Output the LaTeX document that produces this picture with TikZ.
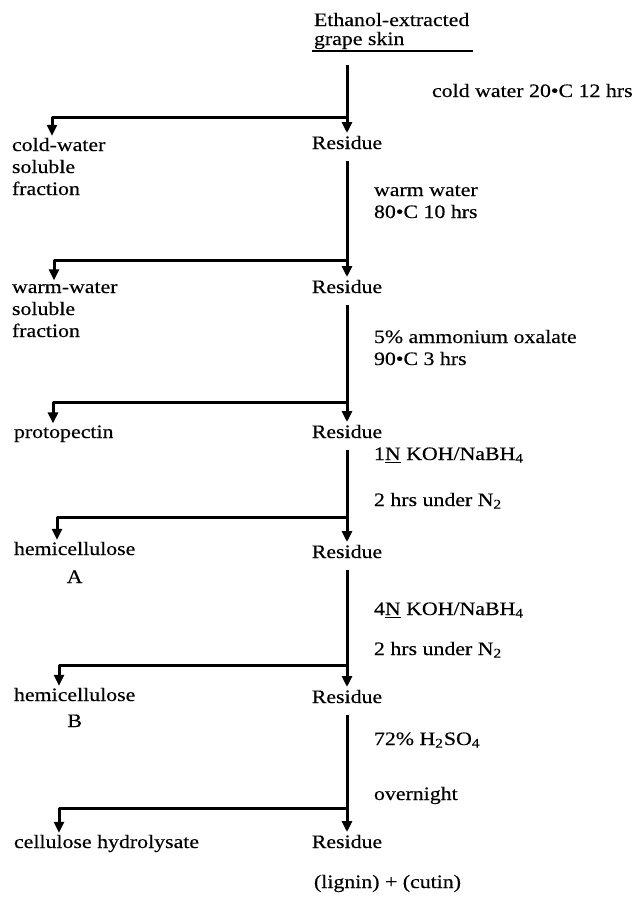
\documentclass[tikz,border=0pt]{standalone}
\usepackage{fontspec}
\setmainfont{Liberation Serif}[FakeStretch=1.15, FakeBold=0.4]
\usetikzlibrary{arrows.meta}
\begin{document}
\begin{tikzpicture}[x=.5pt, y=-.5pt, line join=round, >={Triangle[length=5.5pt,width=5pt]},
	every node/.style={font=\fontsize{9.5}{11}\selectfont, inner sep=0pt, outer sep=1pt},
	res/.style={anchor=base, text height=7pt, text depth=2pt},
	frac/.style={anchor=base west, align=left},
	cond/.style={anchor=base west},
	flow/.style={->, line width=1.5pt}]
	\useasboundingbox (0,0) rectangle (636,902);
	% main column (base = last line)
	\node[frac] (skin) at (312,45) {Ethanol-extracted\\[-1.5pt]grape skin};
	\draw[line width=.8pt] (skin.south west) -- ++(161,0);
	\node[res] (res1) at (347,149) {Residue};
	\node[res] (res2) at (347,293) {Residue};
	\node[res] (res3) at (347,438) {Residue};
	\node[res] (res4) at (347,558) {Residue};
	\node[res] (res5) at (347,703) {Residue};
	\node[res] (res6) at (347,848) {Residue};
	\node[cond] (rest) at (312,888) {(lignin) + (cutin)};
	% fractions
	\node[frac] (cold) at (10,195) {cold-water\\soluble\\fraction};
	\node[frac] (warm) at (10,337) {warm-water\\soluble\\fraction};
	\node[frac] (prot) at (12,438) {protopectin};
	\node[frac, align=center] (hemA) at (12,583) {hemicellulose\\[3pt]A};
	\node[frac, align=center] (hemB) at (12,727) {hemicellulose\\[2pt]B};
	\node[frac] (cell) at (12,848) {cellulose hydrolysate};
	% conditions
	\node[cond] at (430,97) {cold water 20•C 12 hrs};
	\node[frac] at (372,218) {warm water\\80•C 10 hrs};
	\node[frac] at (372,365) {5\% ammonium oxalate\\90•C 3 hrs};
	\node[cond] at (372,460) {1\underline{N} KOH/NaBH\textsubscript{4}};
	\node[cond] at (372,506) {2 hrs under N\textsubscript{2}};
	\node[cond] at (372,615) {4\underline{N} KOH/NaBH\textsubscript{4}};
	\node[cond] at (372,655) {2 hrs under N\textsubscript{2}};
	\node[cond] at (372,745) {72\% H\textsubscript{2}SO\textsubscript{4}};
	\node[cond] at (372,800) {overnight};
	% branch points
	\coordinate (b1) at (347,117);
	\coordinate (b2) at (347,260);
	\coordinate (b3) at (347,402);
	\coordinate (b4) at (347,517);
	\coordinate (b5) at (347,665);
	\coordinate (b6) at (347,808);
	\draw[flow, shorten <=7pt] (skin.south -| res1) -- (res1);
	\draw[flow, shorten <=3pt] (res1) -- (res2);
	\draw[flow, shorten <=3pt] (res2) -- (res3);
	\draw[flow, shorten <=3pt] (res3) -- (res4);
	\draw[flow, shorten <=3pt] (res4) -- (res5);
	\draw[flow, shorten <=3pt] (res5) -- (res6);
	\draw[flow] (b1) -| ([xshift=21pt]cold.north west);
	\draw[flow] (b2) -| ([xshift=22pt]warm.north west);
	\draw[flow] (b3) -| ([xshift=20.5pt]prot.north west);
	\draw[flow] (b4) -| ([xshift=22.5pt]hemA.north west);
	\draw[flow] (b5) -| ([xshift=23.5pt]hemB.north west);
	\draw[flow] (b6) -| ([xshift=23.5pt]cell.north west);
\end{tikzpicture}
\end{document}
